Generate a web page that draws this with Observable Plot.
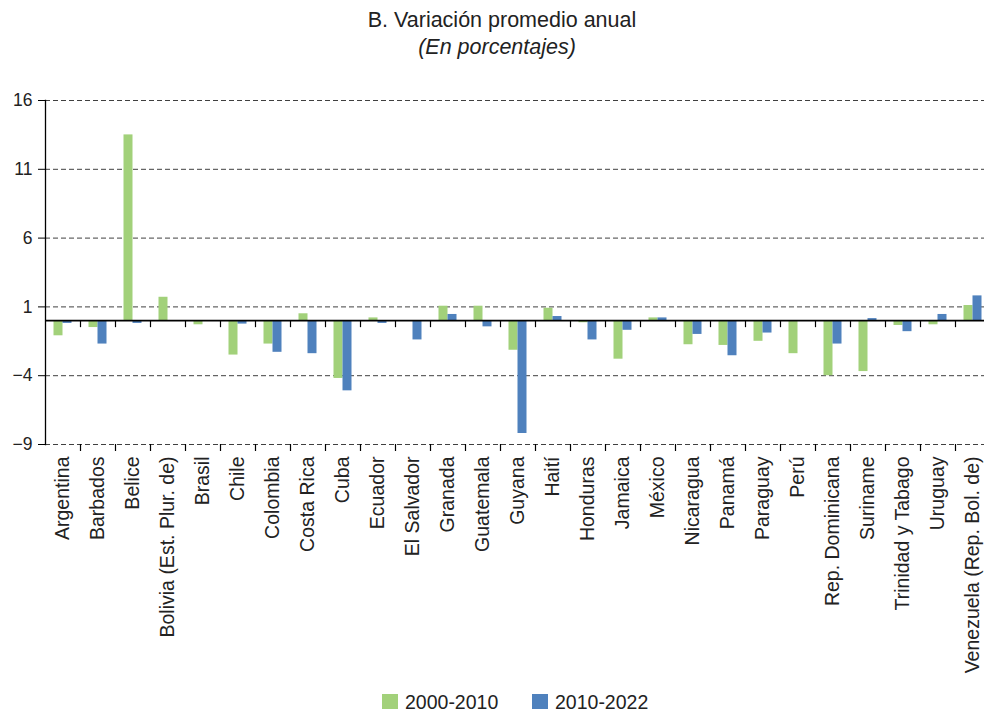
<!DOCTYPE html>
<html><head><meta charset="utf-8">
<script src="https://cdn.jsdelivr.net/npm/d3@7"></script>
<script src="https://cdn.jsdelivr.net/npm/@observablehq/plot@0.6"></script>
<style>
body{margin:0;background:#fff;font-family:"Liberation Sans",Arial,sans-serif;color:#222;}
#wrap{width:984px;height:712px;position:relative;overflow:hidden;background:#fff}
.t{position:absolute;white-space:nowrap;text-align:center;line-height:22px}
#chart{position:absolute;left:0;top:70px}
.lg{position:absolute;font-size:19.5px;line-height:20px;white-space:nowrap}
.sw{position:absolute;width:16px;height:15px}
</style></head>
<body><div id="wrap">
<div class="t" style="left:10px;width:984px;top:9px;font-size:21.5px">B. Variación promedio anual</div>
<div class="t" style="left:5px;width:984px;top:36px;font-size:21.5px;font-style:italic">(En porcentajes)</div>
<div id="chart"></div>
<div id="legend"></div>
</div>
<script>
const countries = ["Argentina","Barbados","Belice","Bolivia (Est. Plur. de)","Brasil","Chile","Colombia","Costa Rica","Cuba","Ecuador","El Salvador","Granada","Guatemala","Guyana","Haití","Honduras","Jamaica","México","Nicaragua","Panamá","Paraguay","Perú","Rep. Dominicana","Suriname","Trinidad y Tabago","Uruguay","Venezuela (Rep. Bol. de)"];
const series = ["2000-2010","2010-2022"];
const v2000 = [-1.1,-0.5,13.5,1.7,-0.3,-2.5,-1.7,0.5,-4.2,0.2,0.0,1.05,1.05,-2.15,0.9,-0.15,-2.8,0.2,-1.75,-1.8,-1.5,-2.4,-4.0,-3.7,-0.35,-0.3,1.1];
const v2010 = [-0.2,-1.7,-0.2,0.0,-0.05,-0.25,-2.3,-2.4,-5.1,-0.2,-1.4,0.45,-0.45,-8.2,0.3,-1.4,-0.7,0.2,-1.0,-2.55,-0.9,0.0,-1.7,0.15,-0.8,0.45,1.8];
const yTicks = [-9,-4,1,6,11,16];
const colors = ["#A2D17A","#4F81BD"];

const rows = countries.map((c,i)=>({country:c, a:v2000[i], b:v2010[i]}));
const xRange = [45, 990];
const bw = (xRange[1]-xRange[0])/countries.length;
const barW = 9;

const chart = Plot.plot({
  width:984, height:620,
  marginTop:30, marginBottom:246, marginLeft:45, marginRight:0,
  style:{fontFamily:"'Liberation Sans', Arial, sans-serif", fontSize:"17.5px", color:"#222", background:"white", overflow:"visible"},
  x:{type:"band", domain:countries, range:xRange, padding:0, label:null},
  y:{domain:[-9,16], label:null},
  marks:[
    Plot.gridY(yTicks, {stroke:"#404040", strokeOpacity:1, strokeDasharray:"5,3", strokeWidth:1}),
    Plot.barY(rows, {x:"country", y:"a", fill:colors[0], insetLeft:bw/2-barW, insetRight:bw/2}),
    Plot.barY(rows, {x:"country", y:"b", fill:colors[1], insetLeft:bw/2, insetRight:bw/2-barW}),
    Plot.ruleY([0], {stroke:"black", strokeWidth:1.6}),
    Plot.ruleX(countries, {x:d=>d, y1:0, y2:0, dx:bw/2, insetBottom:-7, stroke:"black", strokeWidth:1.2}),
    Plot.ruleX(countries, {x:d=>d, y1:-9, y2:-9, dx:bw/2, insetBottom:-7, stroke:"black", strokeWidth:1.2}),
    Plot.frame({anchor:"left", stroke:"black", strokeWidth:1.3}),
    Plot.axisY(yTicks, {tickSize:7, tickPadding:6, label:null, fontSize:17.5, stroke:"black"}),
    Plot.axisX({tickSize:0, tickPadding:12, tickRotate:-90, label:null, fontSize:19.5})
  ]
});
document.getElementById("chart").appendChild(chart);

const lg = document.getElementById("legend");
const lx = [382, 532];
series.forEach((s,i)=>{
  const sw = document.createElement("div");
  sw.className="sw"; sw.style.left=lx[i]+"px"; sw.style.top="694px"; sw.style.background=colors[i];
  lg.appendChild(sw);
  const t = document.createElement("div");
  t.className="lg"; t.style.left=(lx[i]+23)+"px"; t.style.top="692px"; t.textContent=s;
  lg.appendChild(t);
});
</script>
</body></html>
